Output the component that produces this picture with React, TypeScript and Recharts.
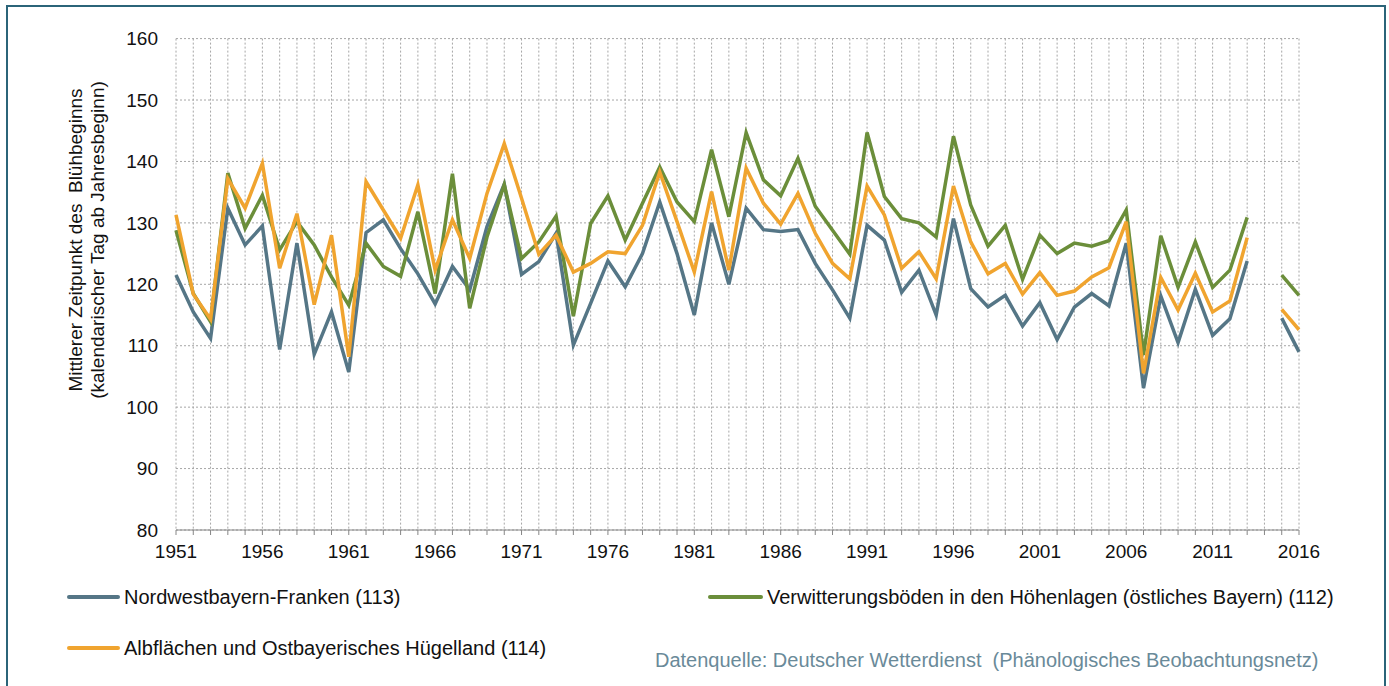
import { LineChart, Line, XAxis, YAxis, CartesianGrid, Legend } from "recharts";

const years = [
  1951, 1952, 1953, 1954, 1955, 1956, 1957, 1958, 1959, 1960,
  1961, 1962, 1963, 1964, 1965, 1966, 1967, 1968, 1969, 1970,
  1971, 1972, 1973, 1974, 1975, 1976, 1977, 1978, 1979, 1980,
  1981, 1982, 1983, 1984, 1985, 1986, 1987, 1988, 1989, 1990,
  1991, 1992, 1993, 1994, 1995, 1996, 1997, 1998, 1999, 2000,
  2001, 2002, 2003, 2004, 2005, 2006, 2007, 2008, 2009, 2010,
  2011, 2012, 2013, 2014, 2015, 2016,
];

// Nordwestbayern-Franken (113)
const nordwest = [
  121.5, 115.5, 111.2, 132.4, 126.4, 129.5, 109.4, 126.7, 108.6, 115.5,
  105.7, 128.4, 130.5, 125.8, 121.7, 116.8, 122.9, 119.1, 129.4, 136.3,
  121.6, 123.7, 128.3, 110.1, 116.9, 123.8, 119.6, 125.0, 133.4, 125.0,
  115.0, 130.0, 120.0, 132.4, 128.9, 128.6, 128.9, 123.4, 119.1, 114.5,
  129.6, 127.2, 118.7, 122.3, 115.0, 130.7, 119.3, 116.3, 118.2, 113.2,
  117.0, 111.0, 116.3, 118.5, 116.5, 126.7, 103.1, 118.1, 110.5, 119.2,
  111.7, 114.4, 123.8, null, 114.5, 109.0,
];

// Verwitterungsböden in den Höhenlagen (112)
const verwitterung = [
  128.8, 118.5, 113.9, 138.1, 129.1, 134.5, 125.6, 130.2, 126.4, 121.2,
  116.6, 126.7, 122.9, 121.3, 131.8, 118.5, 138.0, 116.1, 127.7, 136.2,
  124.2, 126.9, 131.1, 114.8, 129.9, 134.4, 127.2, 133.2, 139.1, 133.4,
  130.2, 141.9, 131.0, 144.7, 137.0, 134.4, 140.5, 132.7, 128.8, 124.9,
  144.7, 134.3, 130.7, 130.0, 127.7, 144.1, 132.9, 126.2, 129.6, 120.8,
  128.0, 125.0, 126.7, 126.2, 127.1, 132.1, 108.5, 127.9, 119.5, 126.9,
  119.5, 122.3, 130.9, null, 121.5, 118.2,
];

// Albflächen und Ostbayerisches Hügelland (114)
const albflaechen = [
  131.3, 118.4, 114.3, 137.2, 132.4, 139.7, 122.6, 131.5, 116.7, 128.0,
  108.2, 136.7, 132.1, 127.5, 136.2, 122.3, 130.5, 124.2, 134.8, 142.9,
  134.0, 124.9, 128.0, 122.0, 123.4, 125.3, 125.0, 129.6, 138.3, 130.2,
  122.0, 135.1, 122.3, 138.9, 133.2, 129.8, 134.8, 128.3, 123.4, 120.9,
  136.0, 131.3, 122.6, 125.3, 120.9, 136.0, 126.9, 121.7, 123.4, 118.4,
  121.9, 118.2, 118.9, 121.2, 122.7, 130.2, 105.5, 121.1, 115.8, 121.8,
  115.5, 117.3, 127.6, null, 115.9, 112.6,
];

const yTicks = [80, 90, 100, 110, 120, 130, 140, 150, 160];

const data = years.map((year, i) => ({
  year,
  nordwest: nordwest[i],
  verwitterung: verwitterung[i],
  albflaechen: albflaechen[i],
}));

const FONT = '"Liberation Sans", Arial, sans-serif';
const BLUE = "#557686";
const GREEN = "#6b8e3a";
const ORANGE = "#f0a42f";

const legendItems = [
  { key: "nordwest", label: "Nordwestbayern-Franken (113)", color: BLUE, left: 67, top: 0, len: 53 },
  { key: "verwitterung", label: "Verwitterungsböden in den Höhenlagen (östliches Bayern) (112)", color: GREEN, left: 708, top: 0, len: 55 },
  { key: "albflaechen", label: "Albflächen und Ostbayerisches Hügelland (114)", color: ORANGE, left: 67, top: 51, len: 53 },
];

function renderLegend() {
  return (
    <div style={{ position: "relative", width: 1389, height: 90, fontFamily: FONT }}>
      {legendItems.map((it) => (
        <div key={it.key} style={{ position: "absolute", left: it.left, top: it.top, display: "flex", alignItems: "center", height: 24 }}>
          <span style={{ width: it.len, height: 4, borderRadius: 2, background: it.color, marginRight: 4 }} />
          <span style={{ fontSize: 20, color: "#111", whiteSpace: "nowrap" }}>{it.label}</span>
        </div>
      ))}
    </div>
  );
}

export default function App() {
  return (
    <div style={{ position: "absolute", left: 0, top: 0, width: 1389, height: 686, overflow: "hidden", background: "#fff", fontFamily: FONT }}>
      <div style={{ position: "absolute", left: 6, top: 5, width: 1380, height: 720, border: "2px solid #2b6479", boxSizing: "border-box" }} />
      <LineChart width={1389} height={686} data={data} margin={{ top: 38.6, right: 90, bottom: 126, left: 0 }}>
        <CartesianGrid stroke="#a6a6a6" strokeDasharray="2 2" />
        <XAxis
          dataKey="year" type="number" domain={[1951, 2016]} ticks={years} interval={0}
          tickFormatter={(v: number) => ((v - 1951) % 5 === 0 ? String(v) : "")}
          stroke="#868686" tickSize={5} tickMargin={10} height={30}
          tick={{ fill: "#111", fontSize: 19, fontFamily: FONT }}
        />
        <YAxis
          domain={[80, 160]} ticks={yTicks} width={176} axisLine={false} tickLine={false}
          tickSize={0} tickMargin={18}
          tick={{ fill: "#111", fontSize: 19, fontFamily: FONT }}
        />
        <Legend
          layout="vertical" align="center" verticalAlign="middle"
          wrapperStyle={{ left: 0, top: 585, width: 1389 }}
          content={renderLegend}
        />
        <Line dataKey="nordwest" stroke={BLUE} strokeWidth={3.5} dot={false} isAnimationActive={false} connectNulls={false} />
        <Line dataKey="verwitterung" stroke={GREEN} strokeWidth={3.5} dot={false} isAnimationActive={false} connectNulls={false} />
        <Line dataKey="albflaechen" stroke={ORANGE} strokeWidth={3.5} dot={false} isAnimationActive={false} connectNulls={false} />
      </LineChart>
      <div style={{ position: "absolute", left: 87, top: 240, width: 0, height: 0 }}>
        <div style={{ position: "absolute", transform: "translate(-50%, -50%) rotate(-90deg)", whiteSpace: "nowrap", textAlign: "center", fontSize: 19, lineHeight: "22px", color: "#111" }}>
          Mittlerer Zeitpunkt des&nbsp; Blühbeginns<br />(kalendarischer Tag ab Jahresbeginn)
        </div>
      </div>
      <div style={{ position: "absolute", left: 655, top: 649, fontSize: 20, color: "#6a8a99", whiteSpace: "pre" }}>
        {"Datenquelle: Deutscher Wetterdienst  (Phänologisches Beobachtungsnetz)"}
      </div>
    </div>
  );
}
